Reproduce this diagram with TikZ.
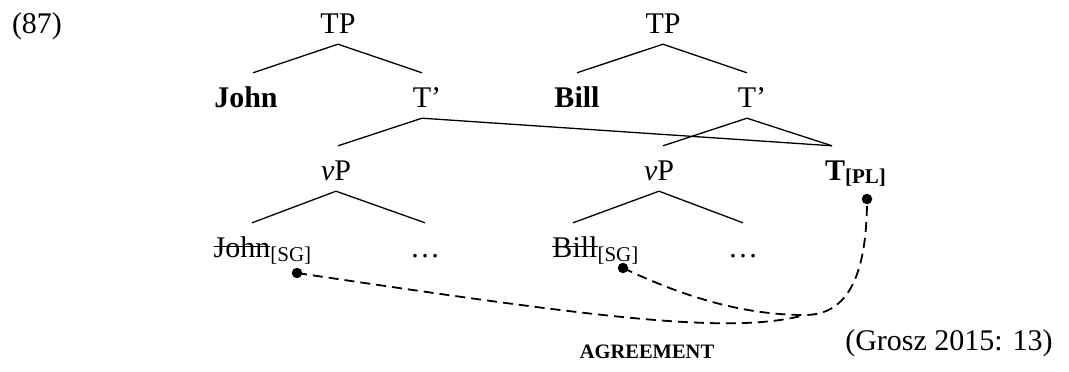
\documentclass[tikz,border=0pt]{standalone}
\usepackage{fontspec}
\setmainfont{Liberation Serif}
\newcommand{\mainsize}{\fontsize{30}{36}\selectfont}
\newcommand{\subsize}{\fontsize{21}{25}\selectfont}
\newcommand{\strk}[1]{\setbox0\hbox{#1}\rlap{\rule[9.8pt]{\wd0}{1.4pt}}\box0}
\tikzset{
  cat/.style={anchor=base, inner xsep=0pt, inner ysep=11pt, text height=23pt, text depth=0pt, font=\mainsize},
  branch/.style={line width=1.3pt},
  agr/.style={line width=1.8pt, dash pattern=on 10pt off 6pt},
  dotnode/.style={circle, fill, inner sep=0pt, minimum size=10.5pt},
  plain/.style={anchor=base, inner sep=0pt, font=\mainsize},
}
\begin{document}
\begin{tikzpicture}[x=1pt,y=-1pt]
\useasboundingbox (0,0) rectangle (1069,372);
\node[plain] (ex) at (37,33) {(87)};
\node[cat] (tp1) at (338,33) {TP};
\node[cat] (tp2) at (663,33) {TP};
\node[cat,font=\mainsize\bfseries] (john) at (246,107) {John};
\node[cat] (tb1) at (422,107) {T\rlap{’}};
\node[cat,font=\mainsize\bfseries] (bill) at (577,107) {Bill};
\node[cat] (tb2) at (747,107) {T\rlap{’}};
\node[cat] (vp1) at (336,180) {\textit{v}P};
\node[cat] (vp2) at (659,180) {\textit{v}P};
\node[cat,font=\mainsize\bfseries] (t) at (835,180) {T\rlap{\raisebox{-3.5pt}{\subsize [PL]}}};
\node[cat] (johnlow) at (242,257) {\strk{John}\rlap{\raisebox{-4pt}{\subsize [SG]}}};
\node[cat] (dots1) at (425,257) {…};
\node[cat] (billlow) at (575,257) {\strk{Bill}\rlap{\raisebox{-4pt}{\subsize [SG]}}};
\node[cat] (dots2) at (743,257) {…};

\draw[branch] (tp1.south) -- ([xshift=7pt]john.north);
\draw[branch] (tp1.south) -- (tb1.north);
\draw[branch] (tp2.south) -- (bill.north);
\draw[branch] (tp2.south) -- (tb2.north);
\draw[branch] (tb1.south) -- ([xshift=2pt]vp1.north);
\draw[branch] (tb1.south) -- ([xshift=-3pt]t.north);
\draw[branch] (tb2.south) -- ([xshift=4pt]vp2.north);
\draw[branch] (tb2.south) -- ([xshift=-3pt]t.north);
\draw[branch] (vp1.south) -- ([xshift=10pt]johnlow.north);
\draw[branch] (vp1.south) -- (dots1.north);
\draw[branch] (vp2.south) -- ([xshift=-2pt]billlow.north);
\draw[branch] (vp2.south) -- (dots2.north);

\node[dotnode] (jd) at (297,273) {};
\node[dotnode] (bd) at (623,268) {};
\node[dotnode] (td) at (867,199) {};
\coordinate (k) at (805,315);
\draw[agr] (jd.center) .. controls (600,318) and (730,335) .. (k);
\draw[agr] (bd.center) .. controls (680,295) and (740,315) .. (k) .. controls (848,315) and (867,275) .. (td.center);

\node[plain, font=\fontsize{20.5}{24}\selectfont\bfseries] (agrlabel) at (647,358) {AGREEMENT};
\node[plain] (src) at (949,350) {(Grosz 2015: 13)};
\end{tikzpicture}
\end{document}
